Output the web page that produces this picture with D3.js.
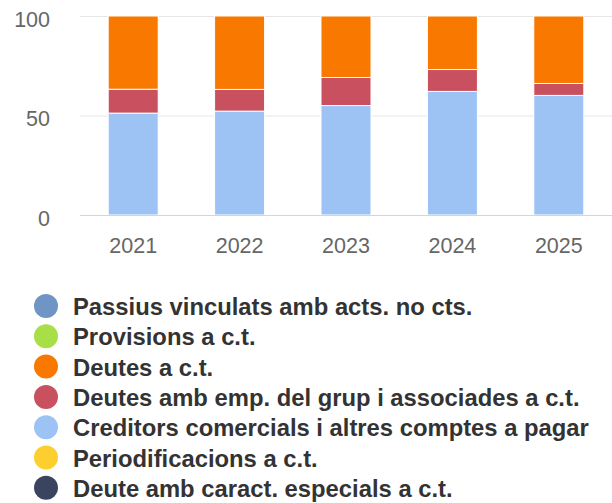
<!DOCTYPE html>
<html lang="ca">
<head>
  <meta charset="UTF-8">
  <title>Passiu corrent</title>
  <script src="https://d3js.org/d3.v7.min.js"></script>
  <style>
    body { margin: 0; background: #fff; }
    svg { display: block; font-family: "Liberation Sans", Arial, sans-serif; }
  </style>
</head>
<body>
  <svg width="612" height="503"></svg>

  <script>
    // years on the x axis
    const years = ["2021", "2022", "2023", "2024", "2025"];

    // series in legend order (first one is drawn on top of the stack)
    const seriesNames = [
      "Passius vinculats amb acts. no cts.",
      "Provisions a c.t.",
      "Deutes a c.t.",
      "Deutes amb emp. del grup i associades a c.t.",
      "Creditors comercials i altres comptes a pagar",
      "Periodificacions a c.t.",
      "Deute amb caract. especials a c.t."
    ];
    const seriesColors = ["#6f95c5", "#a8df48", "#f97800", "#c9505f", "#9cc3f4", "#fdcf2e", "#39445e"];

    // percentage of total per year
    const passiusVinculats = [0, 0, 0, 0, 0];
    const provisions = [0, 0, 0, 0, 0];
    const deutes = [36.8, 36.9, 30.9, 26.9, 33.9];
    const deutesGrup = [12.0, 10.9, 14.1, 11.0, 6.0];
    const creditors = [51.2, 52.2, 55.0, 62.1, 60.1];
    const periodificacions = [0, 0, 0, 0, 0];
    const deuteEspecial = [0, 0, 0, 0, 0];

    const yTicks = [0, 50, 100];

    const seriesValues = [passiusVinculats, provisions, deutes, deutesGrup, creditors, periodificacions, deuteEspecial];

    const svg = d3.select("svg");
    const plot = { left: 80, right: 612, top: 16, bottom: 215 };

    const x = d3.scaleBand()
      .domain(years)
      .range([plot.left, plot.right])
      .paddingInner(0.53)
      .paddingOuter(0.265);

    const y = d3.scaleLinear()
      .domain([0, 100])
      .range([plot.bottom, plot.top]);

    // grid lines
    svg.append("g")
      .selectAll("line")
      .data(yTicks.filter(t => t > 0))
      .enter()
      .append("line")
      .attr("x1", plot.left)
      .attr("x2", plot.right)
      .attr("y1", d => y(d) + 0.5)
      .attr("y2", d => y(d) + 0.5)
      .attr("stroke", "#e6e6e6")
      .attr("stroke-width", 1);

    // y labels
    svg.append("g")
      .selectAll("text")
      .data(yTicks)
      .enter()
      .append("text")
      .attr("x", 50)
      .attr("y", d => y(d) + 10.5)
      .attr("text-anchor", "end")
      .attr("font-size", 21.5)
      .attr("fill", "#666")
      .text(d => d);

    // stack: last series in legend sits at the bottom
    const table = years.map((yr, i) => {
      const row = { year: yr };
      seriesNames.forEach((n, k) => { row[n] = seriesValues[k][i]; });
      return row;
    });
    const stack = d3.stack().keys(seriesNames.slice().reverse());
    const layers = stack(table);

    svg.append("g")
      .selectAll("g")
      .data(layers)
      .enter()
      .append("g")
      .attr("fill", d => seriesColors[seriesNames.indexOf(d.key)])
      .selectAll("rect")
      .data(d => d.filter(p => p[1] - p[0] > 0))
      .enter()
      .append("rect")
      .attr("x", d => x(d.data.year))
      .attr("y", d => y(d[1]))
      .attr("width", x.bandwidth())
      .attr("height", d => y(d[0]) - y(d[1]))
      .attr("stroke", "#fff")
      .attr("stroke-width", 1);

    // x axis line
    svg.append("line")
      .attr("x1", plot.left)
      .attr("x2", plot.right)
      .attr("y1", plot.bottom + 0.5)
      .attr("y2", plot.bottom + 0.5)
      .attr("stroke", "#ccd6eb")
      .attr("stroke-width", 1);

    // x labels
    svg.append("g")
      .selectAll("text")
      .data(years)
      .enter()
      .append("text")
      .attr("x", d => x(d) + x.bandwidth() / 2)
      .attr("y", 253)
      .attr("text-anchor", "middle")
      .attr("font-size", 21.5)
      .attr("fill", "#666")
      .text(d => d);

    // legend
    const legend = svg.append("g")
      .selectAll("g")
      .data(seriesNames)
      .enter()
      .append("g")
      .attr("transform", (d, i) => "translate(0," + (306 + i * 30.3) + ")");

    legend.append("circle")
      .attr("cx", 46)
      .attr("cy", 0)
      .attr("r", 12)
      .attr("fill", (d, i) => seriesColors[i]);

    legend.append("text")
      .attr("x", 73)
      .attr("y", 9)
      .attr("font-size", 23.8)
      .attr("font-weight", "bold")
      .attr("fill", "#333")
      .text(d => d);
  </script>
</body>
</html>
